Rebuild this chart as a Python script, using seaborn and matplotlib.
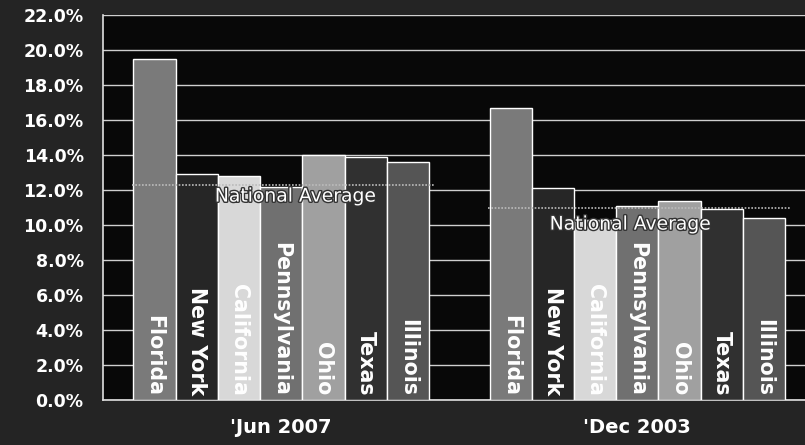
import pandas as pd
import numpy as np
import matplotlib.pyplot as plt
import matplotlib.patheffects as pe
import seaborn as sns

# data (percent)
periods = ["'Jun 2007", "'Dec 2003"]
states = ["Florida", "New York", "California", "Pennsylvania", "Ohio", "Texas", "Illinois"]
jun_2007 = [19.5, 12.9, 12.8, 12.2, 14.0, 13.9, 13.6]
dec_2003 = [16.7, 12.1, 10.3, 11.1, 11.4, 10.9, 10.4]
national_avg = [12.3, 11.0]

# grey fills standing in for the dither patterns
fills = ["#7a7a7a", "#262626", "#d8d8d8", "#707070", "#a0a0a0", "#303030", "#555555"]

df = pd.DataFrame({
    "Periodo": np.repeat(periods, len(states)),
    "Estado": states * 2,
    "Valor": jun_2007 + dec_2003,
})

sns.set_style("dark")
plt.rcParams["font.family"] = ["DejaVu Sans"]

fig = plt.figure(figsize=(8.05, 4.45), dpi=100, facecolor="#242424")
ax = fig.add_axes([0.128, 0.101, 0.885, 0.865])
ax.set_facecolor("#080808")

sns.barplot(data=df, x="Periodo", y="Valor", hue="Estado", order=periods,
            hue_order=states, palette=fills, width=0.83, edgecolor="white",
            linewidth=1, saturation=1, legend=False, ax=ax, zorder=3)

# grid lines every 2%
ax.set_ylim(0, 22)
ax.set_yticks(np.arange(0, 22.1, 2))
ax.set_yticklabels([f"{v:.1f}%" for v in np.arange(0, 22.1, 2)])
ax.yaxis.grid(True, color="#cfcfcf", linewidth=1, zorder=0)
ax.xaxis.grid(False)
ax.set_axisbelow(True)

ax.set_xlim(-0.5, 1.5)
ax.set_xlabel("")
ax.set_ylabel("")

for s in ["top", "right"]:
    ax.spines[s].set_visible(False)
for s in ["left", "bottom"]:
    ax.spines[s].set_visible(True)
    ax.spines[s].set_color("#e0e0e0")
    ax.spines[s].set_linewidth(1.2)

ax.tick_params(axis="y", colors="#e0e0e0", direction="out", length=6, width=1,
               pad=8, labelsize=12.5, labelcolor="white")
ax.tick_params(axis="x", length=0, pad=13, labelsize=14, labelcolor="white")
ax.set_xticks([0.5], minor=True)
ax.tick_params(axis="x", which="minor", length=5, width=1.2, colors="#e0e0e0", direction="out")
for lab in ax.get_yticklabels() + ax.get_xticklabels():
    lab.set_fontweight("bold")

# state names inside the bars
for cont, name in zip(ax.containers, states):
    for bar in cont:
        ax.text(bar.get_x() + bar.get_width() / 2, 0.25, name, rotation=-90,
                ha="center", va="bottom", color="white", fontsize=14.8,
                fontweight="bold", zorder=5)

# national average lines
offsets = [(0.04, 0.1), (-0.02, 0.4)]
for i, avg in enumerate(national_avg):
    ax.hlines(avg, i - 0.42, i + 0.43, colors="#bbbbbb", linestyles=(0, (1, 1)),
              linewidth=1.2, zorder=4)
    dx, dy = offsets[i]
    ax.text(i + dx, avg - dy, "National Average",
            ha="center", va="top", color="white", fontsize=13.5, zorder=6,
            path_effects=[pe.withStroke(linewidth=2, foreground="#333333")])

fig.savefig("out.png", dpi=100, facecolor=fig.get_facecolor())
